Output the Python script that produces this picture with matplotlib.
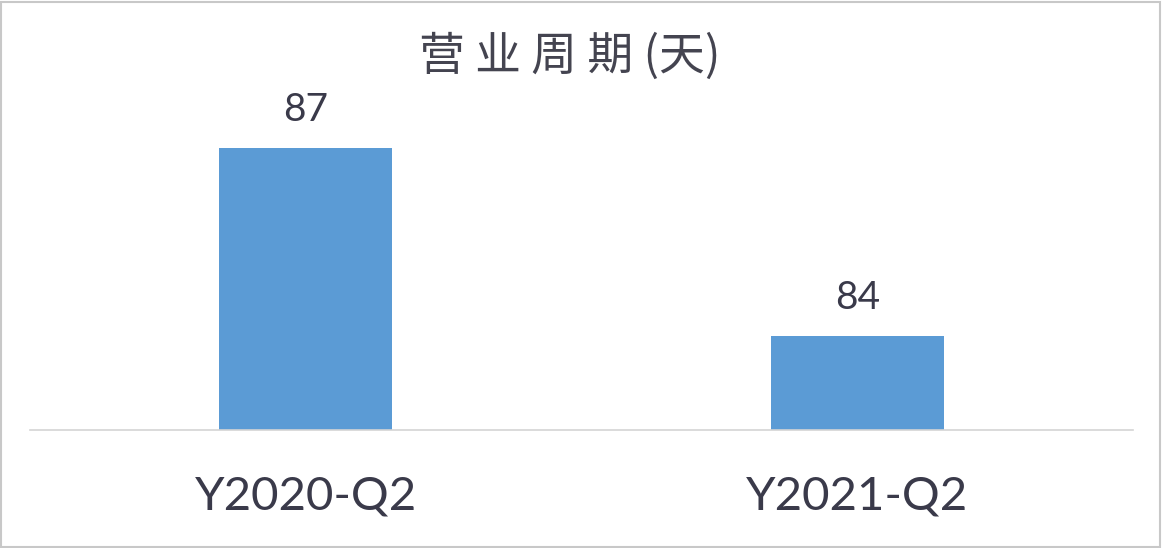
import matplotlib
matplotlib.use("Agg")
import matplotlib.pyplot as plt
from matplotlib.patches import Rectangle

categories = ["Y2020-Q2", "Y2021-Q2"]
values = [87, 84]
title = "营 业 周 期 (天)"

plt.rcParams['font.family'] = ['Noto Sans CJK SC', 'DejaVu Sans']

W, H = 1162, 548
fig = plt.figure(figsize=(W/100, H/100), dpi=100)
fig.patch.set_facecolor('white')

# outer frame
fig.patches.append(Rectangle((0.001, 0.002), 0.997, 0.995, transform=fig.transFigure,
                             fill=False, edgecolor='#c8c8c8', linewidth=1.5))

ax_left, ax_right = 30/W, 1133/W
ax_bottom = (H-430)/H
ax_top = (H-85)/H
ax = fig.add_axes([ax_left, ax_bottom, ax_right-ax_left, ax_top-ax_bottom])
ax.set_facecolor('none')

x = list(range(len(categories)))
bars = ax.bar(x, values, width=0.314, color='#5b9bd5', bottom=0)
ax.set_xlim(-0.5, 1.5)
ax.set_ylim(82.5, 88.0)

text_color = '#3a3a4a'
for xi, v in zip(x, values):
    ax.annotate(str(v), (xi, v), xytext=(0, 14), textcoords='offset points',
                ha='center', va='bottom', fontsize=28, color=text_color,
                family=['Lato', 'DejaVu Sans'])

for s in ['top', 'left', 'right']:
    ax.spines[s].set_visible(False)
ax.spines['bottom'].set_color('#d4d4d4')
ax.spines['bottom'].set_linewidth(1.2)
ax.set_yticks([])
ax.set_xticks(x)
ax.set_xticklabels(categories, fontsize=34, color=text_color, family=['Lato', 'DejaVu Sans'])
ax.tick_params(axis='x', length=0, pad=33)

fig.text(570/W, (H-57)/H, title, ha='center', va='center', fontsize=33,
         color='#444450', fontweight='light')

fig.savefig('out.png', dpi=100, facecolor='white')
